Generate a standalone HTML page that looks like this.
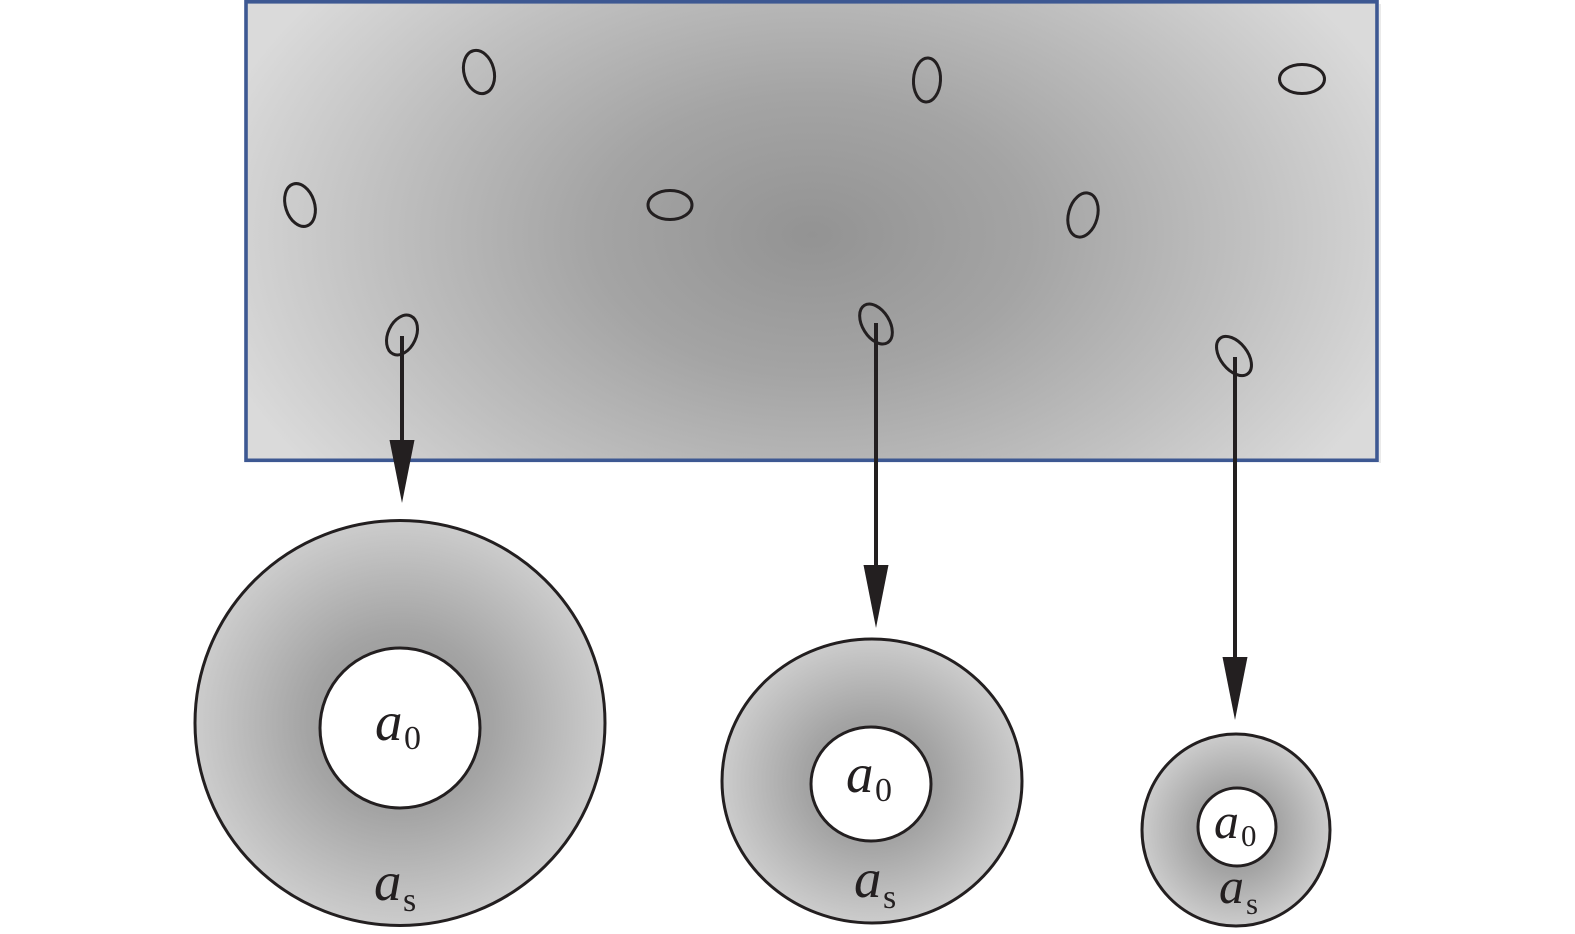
<!DOCTYPE html>
<html>
<head>
<meta charset="utf-8">
<style>
  html, body { margin: 0; padding: 0; background: #ffffff; }
  svg { display: block; }
  .lbl { font-family: "Liberation Serif", "DejaVu Serif", serif; fill: #231f20; }
</style>
</head>
<body>
<svg width="1575" height="934" viewBox="0 0 1575 934" xmlns="http://www.w3.org/2000/svg">
  <defs>
    <radialGradient id="rg" gradientUnits="userSpaceOnUse" cx="0" cy="0" r="1"
      gradientTransform="translate(812 235) scale(620 400)">
      <stop offset="0" stop-color="#939393"/>
      <stop offset="0.35" stop-color="#a4a4a4"/>
      <stop offset="0.7" stop-color="#c0c0c0"/>
      <stop offset="1" stop-color="#dadada"/>
    </radialGradient>
    <radialGradient id="cg" cx="0.5" cy="0.5" r="0.5">
      <stop offset="0" stop-color="#8e8e8e"/>
      <stop offset="0.45" stop-color="#a4a4a4"/>
      <stop offset="1" stop-color="#cccccc"/>
    </radialGradient>
  </defs>

  <!-- main rectangle -->
  <rect x="246" y="1.8" width="1131" height="458.5" fill="url(#rg)" stroke="#3d5892" stroke-width="3.6"/>
  <line x1="1380" y1="4" x2="1380" y2="463" stroke="#e4e4e4" stroke-width="1.5"/>

  <!-- small ellipses -->
  <g fill="none" stroke="#231f20" stroke-width="3">
    <ellipse cx="479" cy="72" rx="15" ry="22" transform="rotate(-15 479 72)"/>
    <ellipse cx="300" cy="205" rx="14.5" ry="22" transform="rotate(-18 300 205)"/>
    <ellipse cx="927" cy="80" rx="13.5" ry="22" transform="rotate(3 927 80)"/>
    <ellipse cx="1302" cy="79" rx="22.5" ry="14.5"/>
    <ellipse cx="670" cy="205" rx="22" ry="14.5"/>
    <ellipse cx="1083" cy="215" rx="14.5" ry="22.5" transform="rotate(15 1083 215)"/>
    <ellipse cx="402" cy="335" rx="14" ry="21" transform="rotate(25 402 335)"/>
    <ellipse cx="876" cy="324" rx="13.5" ry="22" transform="rotate(-32 876 324)"/>
    <ellipse cx="1234" cy="356" rx="13.5" ry="22.5" transform="rotate(-38 1234 356)"/>
  </g>

  <!-- arrows -->
  <g stroke="#231f20" stroke-width="4" fill="none">
    <line x1="402" y1="336" x2="402" y2="446"/>
    <line x1="876" y1="323" x2="876" y2="571"/>
    <line x1="1235" y1="357" x2="1235" y2="662"/>
  </g>
  <g fill="#231f20">
    <polygon points="389.5,440 414.5,440 402,503"/>
    <polygon points="863.5,565 888.5,565 876,628"/>
    <polygon points="1222.5,657 1247.5,657 1235,720"/>
  </g>

  <!-- big circle -->
  <ellipse cx="400" cy="723" rx="205" ry="202.5" fill="url(#cg)" stroke="#231f20" stroke-width="3"/>
  <circle cx="400" cy="728" r="80" fill="#ffffff" stroke="#231f20" stroke-width="3"/>

  <!-- middle circle -->
  <ellipse cx="872" cy="781" rx="150" ry="142" fill="url(#cg)" stroke="#231f20" stroke-width="3"/>
  <ellipse cx="871" cy="784" rx="60" ry="57" fill="#ffffff" stroke="#231f20" stroke-width="3"/>

  <!-- small circle -->
  <ellipse cx="1236" cy="830" rx="94" ry="96" fill="url(#cg)" stroke="#231f20" stroke-width="3"/>
  <circle cx="1237" cy="827" r="39" fill="#ffffff" stroke="#231f20" stroke-width="3"/>

  <!-- labels -->
  <g class="lbl">
    <text x="375" y="740" font-size="55" font-style="italic">a</text>
    <text x="404" y="749" font-size="34">0</text>
    <text x="374" y="900" font-size="55" font-style="italic">a</text>
    <text x="403" y="911" font-size="34">s</text>

    <text x="846" y="792" font-size="55" font-style="italic">a</text>
    <text x="875" y="801" font-size="34">0</text>
    <text x="854" y="897" font-size="55" font-style="italic">a</text>
    <text x="883" y="908" font-size="34">s</text>

    <text x="1214" y="838" font-size="50" font-style="italic">a</text>
    <text x="1241" y="846" font-size="31">0</text>
    <text x="1219" y="903" font-size="50" font-style="italic">a</text>
    <text x="1246" y="914" font-size="31">s</text>
  </g>
</svg>
</body>
</html>
